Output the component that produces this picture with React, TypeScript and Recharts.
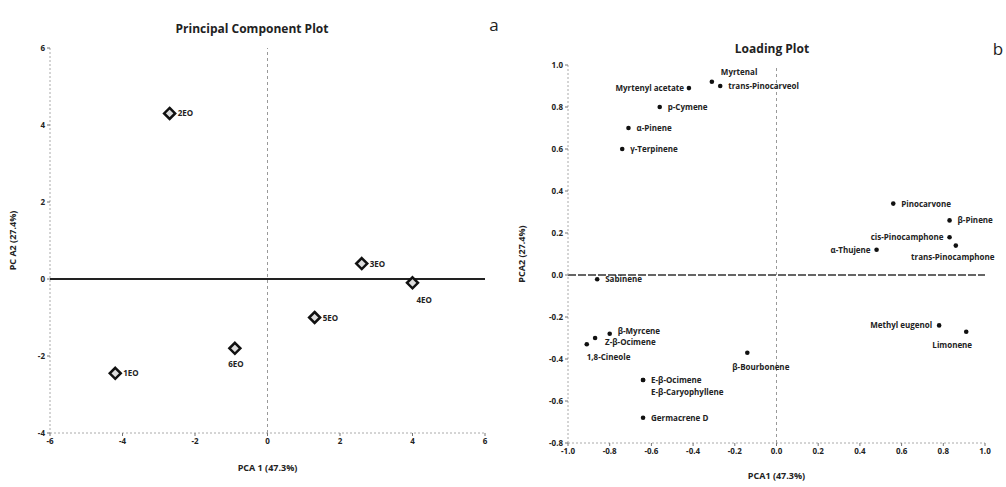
import * as React from "react";
import {
  ScatterChart,
  Scatter,
  XAxis,
  YAxis,
  ReferenceLine,
} from "recharts";

// score plot (left)
const samples = ["1EO", "2EO", "3EO", "4EO", "5EO", "6EO"];
const pc1Scores = [-4.2, -2.7, 2.6, 4.0, 1.3, -0.9];
const pc2Scores = [-2.45, 4.3, 0.4, -0.1, -1.0, -1.8];
const scoreXTicks = [-6, -4, -2, 0, 2, 4, 6];
const scoreYTicks = [-4, -2, 0, 2, 4, 6];

// loading plot (right)
const compounds = [
  "Myrtenal",
  "trans-Pinocarveol",
  "Myrtenyl acetate",
  "p-Cymene",
  "α-Pinene",
  "γ-Terpinene",
  "Pinocarvone",
  "β-Pinene",
  "cis-Pinocamphone",
  "trans-Pinocamphone",
  "α-Thujene",
  "Sabinene",
  "Methyl eugenol",
  "Limonene",
  "β-Myrcene",
  "Z-β-Ocimene",
  "1,8-Cineole",
  "β-Bourbonene",
  "E-β-Ocimene",
  "E-β-Caryophyllene",
  "Germacrene D",
];
const load1 = [-0.31, -0.27, -0.42, -0.56, -0.71, -0.74, 0.56, 0.83, 0.83, 0.86, 0.48, -0.86, 0.78, 0.91, -0.8, -0.87, -0.91, -0.14, -0.64, -0.64, -0.64];
const load2 = [0.92, 0.9, 0.89, 0.8, 0.7, 0.6, 0.34, 0.26, 0.18, 0.14, 0.12, -0.02, -0.24, -0.27, -0.28, -0.3, -0.33, -0.37, -0.5, -0.5, -0.68];
const loadXTicks = [-1.0, -0.8, -0.6, -0.4, -0.2, 0.0, 0.2, 0.4, 0.6, 0.8, 1.0];
const loadYTicks = [-0.8, -0.6, -0.4, -0.2, 0.0, 0.2, 0.4, 0.6, 0.8, 1.0];

const scoreData = samples.map((name, i) => ({ name, x: pc1Scores[i], y: pc2Scores[i] }));
const loadData = compounds.map((name, i) => ({ name, x: load1[i], y: load2[i] }));

type Lay = { dx: number; dy: number; anchor: "start" | "middle" | "end" };
const defaultLay: Lay = { dx: 8, dy: 3, anchor: "start" };

const scoreLabelLay: Record<string, Lay> = {
  "4EO": { dx: 4, dy: 20, anchor: "start" },
  "6EO": { dx: 1, dy: 19, anchor: "middle" },
};

const loadLabelLay: Record<string, Lay> = {
  Myrtenal: { dx: 9, dy: -7, anchor: "start" },
  "Myrtenyl acetate": { dx: -5, dy: 3, anchor: "end" },
  "cis-Pinocamphone": { dx: -6, dy: 3, anchor: "end" },
  "α-Thujene": { dx: -6, dy: 3, anchor: "end" },
  "trans-Pinocamphone": { dx: -3, dy: 14, anchor: "middle" },
  "Methyl eugenol": { dx: -7, dy: 3, anchor: "end" },
  Limonene: { dx: -14, dy: 16, anchor: "middle" },
  "β-Myrcene": { dx: 8, dy: 0, anchor: "start" },
  "Z-β-Ocimene": { dx: 10, dy: 7, anchor: "start" },
  "1,8-Cineole": { dx: 0, dy: 16, anchor: "start" },
  "β-Bourbonene": { dx: -15, dy: 17, anchor: "start" },
  "E-β-Caryophyllene": { dx: 8, dy: 15, anchor: "start" },
};

const FONT = "'Open Sans', 'Liberation Sans', sans-serif";
const tickStyle = { fontSize: 8, fontWeight: 700, fill: "#222", fontFamily: FONT };

const DiamondMark = (props: any) => {
  const { cx, cy, payload } = props;
  const lay = scoreLabelLay[payload.name] ?? defaultLay;
  const r = 5.5;
  return (
    <g>
      <path
        d={`M${cx},${cy - r} L${cx + r},${cy} L${cx},${cy + r} L${cx - r},${cy} Z`}
        fill="#ddd"
        stroke="#111"
        strokeWidth={2.5}
      />
      <text
        x={cx + lay.dx}
        y={cy + lay.dy}
        textAnchor={lay.anchor}
        fontSize={8}
        fontWeight={700}
        fill="#222"
        fontFamily={FONT}
      >
        {payload.name}
      </text>
    </g>
  );
};

const DotMark = (props: any) => {
  const { cx, cy, payload } = props;
  const lay = loadLabelLay[payload.name] ?? defaultLay;
  return (
    <g>
      <circle cx={cx} cy={cy} r={2.3} fill="#111" />
      <text
        x={cx + lay.dx}
        y={cy + lay.dy}
        textAnchor={lay.anchor}
        fontSize={8}
        fontWeight={700}
        fill="#222"
        fontFamily={FONT}
      >
        {payload.name}
      </text>
    </g>
  );
};

const axisLine = { stroke: "#aaa", strokeDasharray: "2 2" };
const tickLine = { stroke: "#777" };

const titleStyle: React.CSSProperties = {
  position: "absolute",
  fontFamily: FONT,
  fontWeight: 700,
  fontSize: 12,
  color: "#222",
  whiteSpace: "nowrap",
  transform: "translate(-50%, -50%)",
};

const letterStyle: React.CSSProperties = {
  position: "absolute",
  fontFamily: FONT,
  fontSize: 17,
  color: "#222",
  transform: "translate(-50%, -50%)",
};

export default function App() {
  return (
    <div style={{ position: "absolute", left: 0, top: 0, width: 1006, height: 487, background: "#fff" }}>
      <div style={{ ...titleStyle, left: 252, top: 28 }}>Principal Component Plot</div>
      <div style={{ ...letterStyle, left: 494, top: 24 }}>a</div>
      <div style={{ ...titleStyle, left: 772, top: 48 }}>Loading Plot</div>
      <div style={{ ...letterStyle, left: 998, top: 48 }}>b</div>

      <div style={{ position: "absolute", left: 0, top: 0 }}>
        <ScatterChart width={500} height={487} margin={{ top: 48, right: 15, bottom: 14, left: 10 }}>
          <XAxis
            type="number"
            dataKey="x"
            domain={[-6, 6]}
            ticks={scoreXTicks}
            height={40}
            tick={tickStyle}
            axisLine={axisLine}
            tickLine={tickLine}
            tickSize={3}
            label={{ value: "PCA 1 (47.3%)", position: "insideBottom", offset: 2, style: { ...tickStyle, fontSize: 9 } }}
          />
          <YAxis
            type="number"
            dataKey="y"
            domain={[-4, 6]}
            ticks={scoreYTicks}
            width={40}
            tick={tickStyle}
            axisLine={axisLine}
            tickLine={tickLine}
            tickSize={3}
            label={{ value: "PC A2 (27.4%)", angle: -90, position: "insideLeft", offset: 3, style: { ...tickStyle, fontSize: 9, textAnchor: "middle" } }}
          />
          <ReferenceLine x={0} stroke="#999" strokeDasharray="3 3" />
          <ReferenceLine y={0} stroke="#222" strokeWidth={2} />
          <Scatter data={scoreData} shape={DiamondMark} isAnimationActive={false} />
        </ScatterChart>
      </div>

      <div style={{ position: "absolute", left: 500, top: 0 }}>
        <ScatterChart width={506} height={487} margin={{ top: 65, right: 21, bottom: 6, left: 10 }}>
          <XAxis
            type="number"
            dataKey="x"
            domain={[-1, 1]}
            ticks={loadXTicks}
            tickFormatter={(v: number) => v.toFixed(1)}
            height={38}
            tick={tickStyle}
            axisLine={axisLine}
            tickLine={tickLine}
            tickSize={3}
            label={{ value: "PCA1 (47.3%)", position: "insideBottom", offset: 2, style: { ...tickStyle, fontSize: 9 } }}
          />
          <YAxis
            type="number"
            dataKey="y"
            domain={[-0.8, 1]}
            ticks={loadYTicks}
            tickFormatter={(v: number) => v.toFixed(1)}
            width={58}
            tick={tickStyle}
            axisLine={axisLine}
            tickLine={tickLine}
            tickSize={3}
            label={{ value: "PCA2 (27.4%)", angle: -90, position: "insideLeft", offset: 12, style: { ...tickStyle, fontSize: 9, textAnchor: "middle" } }}
          />
          <ReferenceLine x={0} stroke="#999" strokeDasharray="3 3" />
          <ReferenceLine y={0} stroke="#333" strokeWidth={1.5} strokeDasharray="8 2" />
          <Scatter data={loadData} shape={DotMark} isAnimationActive={false} />
        </ScatterChart>
      </div>
    </div>
  );
}
